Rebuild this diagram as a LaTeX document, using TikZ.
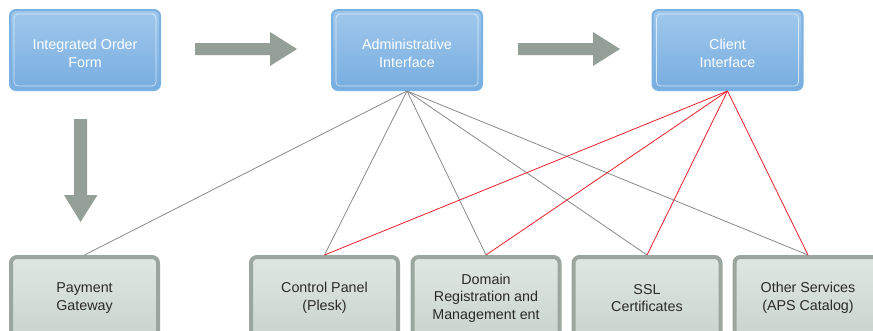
\documentclass[tikz,border=0pt]{standalone}
\usepackage{fontspec}
\setmainfont{Liberation Sans}
\definecolor{topA}{HTML}{A0C8EC}
\definecolor{topB}{HTML}{77ADE0}
\definecolor{topedge}{HTML}{7BB0E2}
\definecolor{botA}{HTML}{DFE7E2}
\definecolor{botB}{HTML}{C9D4CE}
\definecolor{botedge}{HTML}{9AA69E}
\definecolor{arrowfill}{HTML}{939F97}
\definecolor{linkgray}{HTML}{8A8A8A}
\definecolor{linkred}{HTML}{E8202A}
\definecolor{bottext}{HTML}{2A2A2A}
\begin{document}
\begin{tikzpicture}[x=1pt,y=-1pt,
  topbox/.style={rectangle, rounded corners=6pt, minimum width=150pt, minimum height=80pt,
    draw=topedge, line width=2pt, top color=topA, bottom color=topB, text=white,
    font=\fontsize{14.3}{17.5}\selectfont, align=center,
    path picture={\draw[white, opacity=0.65, line width=0.7pt, rounded corners=4pt]
      ([xshift=4pt,yshift=-4pt]path picture bounding box.north west) rectangle
      ([xshift=-4pt,yshift=4pt]path picture bounding box.south east);}},
  botbox/.style={rectangle, rounded corners=6pt, minimum width=147pt, minimum height=82pt,
    draw=botedge, line width=4pt, top color=botA, bottom color=botB, text=bottext,
    font=\fontsize{14.3}{17.5}\selectfont, align=center},
  blockarrow/.style={fill=arrowfill, draw=none},
  graylink/.style={draw=linkgray, line width=0.8pt},
  redlink/.style={draw=linkred, line width=0.8pt}]
\useasboundingbox (0,0) rectangle (873,330);
\clip (0,0) rectangle (873,330);
\fill[white] (0,0) rectangle (873,330);

% top boxes
\node[topbox] (iof) at (85,50) {\strut\\[-13pt]Integrated Order\\Form};
\node[topbox] (adm) at (407,50) {\strut\\[-13pt]Administrative\\Interface};
\node[topbox] (cli) at (727.5,50) {\strut\\[-13pt]Client\\Interface};

% bottom boxes
\node[botbox] (pay) at (84.5,298) {Payment\\Gateway};
\node[botbox] (cp)  at (324.5,298) {Control Panel\\(Plesk)};
\node[botbox] (dom) at (486,298) {Domain\\Registration and\\Management ent};
\node[botbox] (ssl) at (647,298) {SSL\\Certificates};
\node[botbox] (oth) at (808,298) {Other Services\\(APS Catalog)};

% block arrows
\fill[blockarrow] (195,43) -- (270,43) -- (270,32) -- (297,49) -- (270,66) -- (270,55) -- (195,55) -- cycle;
\fill[blockarrow] (518,43) -- (593,43) -- (593,32) -- (620,49) -- (593,66) -- (593,55) -- (518,55) -- cycle;
\fill[blockarrow] (74,119) -- (87,119) -- (87,195) -- (97.5,195) -- (80.5,222) -- (64,195) -- (74,195) -- cycle;

% links
\draw[graylink] (adm.south) -- (pay.north);
\draw[graylink] (adm.south) -- (cp.north);
\draw[graylink] (adm.south) -- (dom.north);
\draw[graylink] (adm.south) -- (ssl.north);
\draw[graylink] (adm.south) -- (oth.north);
\draw[redlink] (cli.south) -- (cp.north);
\draw[redlink] (cli.south) -- (dom.north);
\draw[redlink] (cli.south) -- (ssl.north);
\draw[redlink] (cli.south) -- (oth.north);
\end{tikzpicture}
\end{document}
